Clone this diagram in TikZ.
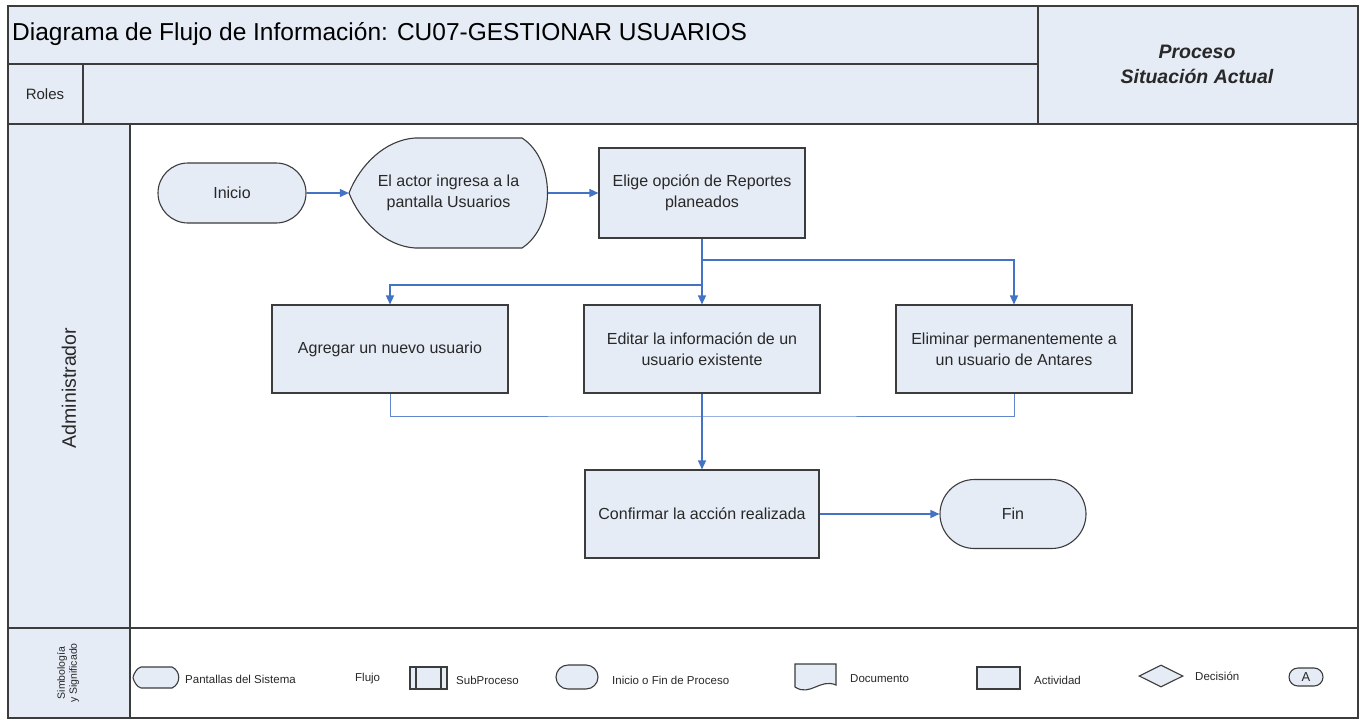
\documentclass[tikz,border=0pt]{standalone}
\usepackage{fontspec}
\setmainfont{Liberation Sans}
\usetikzlibrary{shapes.geometric,shapes.misc,arrows.meta}
\definecolor{fondo}{RGB}{229,236,246}
\definecolor{borde}{RGB}{60,60,60}
\definecolor{azulflujo}{RGB}{68,114,196}
\definecolor{texto}{RGB}{40,40,40}

\begin{document}
\begin{tikzpicture}[x=1pt,y=-1pt]
				\tikzstyle{every node}=[font=\fontsize{16}{21}\selectfont,text=texto,align=center,inner sep=0pt]
				\tikzstyle{marco}=[draw=borde,line width=1.3pt]
				\tikzstyle{actividad}=[rectangle,draw=borde,fill=fondo,line width=1.1pt]
				\tikzstyle{terminal}=[rounded rectangle,draw=borde,fill=fondo,line width=1.1pt]
				\tikzstyle{pantalla}=[draw=borde,fill=fondo,line width=1.1pt]
				\tikzstyle{flujo}=[draw=azulflujo,line width=1.3pt]
				\tikzstyle{retorno}=[draw=azulflujo!85,line width=1pt]
				\tikzstyle{conector}=[flujo,-{Triangle[length=9pt,width=8pt]}]
				\tikzstyle{leyenda}=[anchor=west,font=\fontsize{11.5}{13}\selectfont]
				\useasboundingbox[fill=white] (0,0) rectangle (1362,720);
				% encabezado y carriles
				\draw[marco,fill=fondo] (8,6) rectangle (1038,64);
				\draw[marco,fill=fondo] (8,64) rectangle (83,124);
				\draw[marco,fill=fondo] (83,64) rectangle (1038,124);
				\draw[marco,fill=fondo] (1038,6) rectangle (1358,124);
				\draw[marco] (130,124) rectangle (1358,628);
				\draw[marco,fill=fondo] (8,124) rectangle (130,628);
				\draw[marco] (130,628) rectangle (1358,718);
				\draw[marco,fill=fondo] (8,628) rectangle (130,718);
				\node[anchor=west,font=\fontsize{24.5}{28}\selectfont,text=black] (titulo) at (12,34) {Diagrama de Flujo de Información: CU07-GESTIONAR USUARIOS};
				\node[font=\bfseries\itshape\fontsize{19.5}{25}\selectfont] (proceso) at (1197,64) {Proceso\\Situación Actual};
				\node[font=\fontsize{15}{18}\selectfont] (roles) at (45,94) {Roles};
				\node[rotate=90,font=\fontsize{19.5}{23}\selectfont] (rol) at (69,388) {Administrador};
				\node[rotate=90,font=\fontsize{10.5}{12}\selectfont] (simbolos) at (68,673) {Simbología\\y Significado};
				% flujo
				\node[terminal,minimum width=148pt,minimum height=60pt] (inicio) at (232,193) {Inicio};
				\filldraw[pantalla] (415,138) -- (522,138) .. controls (556,160) and (556,226) .. (522,248)
					-- (415,248) .. controls (385,246) and (360,221) .. (349,193)
					.. controls (360,165) and (385,140) .. (415,138) -- cycle;
				\node[minimum width=199pt,minimum height=110pt] (actor) at (448.5,193) {El actor ingresa a la\\pantalla Usuarios};
				\node[actividad,minimum width=206pt,minimum height=90pt] (elige) at (702,193) {Elige opción de Reportes\\planeados};
				\node[actividad,minimum width=236pt,minimum height=88pt] (agregar) at (390,349) {Agregar un nuevo usuario};
				\node[actividad,minimum width=236pt,minimum height=88pt] (editar) at (702,349) {Editar la información de un\\usuario existente};
				\node[actividad,minimum width=236pt,minimum height=88pt] (eliminar) at (1014,349) {Eliminar permanentemente a\\un usuario de Antares};
				\node[actividad,minimum width=234pt,minimum height=88pt] (confirmar) at (702,514) {Confirmar la acción realizada};
				\node[terminal,minimum width=146pt,minimum height=69pt] (fin) at (1013,514) {Fin};
				\coordinate (rama1) at (702,260);
				\coordinate (rama2) at (702,285);
				\coordinate (junta) at (702,416);
				\draw[conector] (inicio.east) -- (actor.west);
				\draw[conector] (actor.east) -- (elige.west);
				\draw[conector] (elige.south) -- (editar.north);
				\draw[conector] (rama1) -| (eliminar.north);
				\draw[conector] (rama2) -| (agregar.north);
				\draw[retorno] (agregar.south) |- (junta) -| (eliminar.south);
				\draw[conector] (editar.south) -- (confirmar.north);
				\draw[conector] (confirmar.east) -- (fin.west);
				% simbologia
				\filldraw[pantalla] (141,667) -- (172,667) .. controls (181,671) and (181,684) .. (172,688)
					-- (141,688) .. controls (137,687) and (134,682) .. (133,677.5)
					.. controls (134,673) and (137,668) .. (141,667) -- cycle;
				\node[leyenda] (ley1) at (185,679) {Pantallas del Sistema};
				\node[leyenda] (ley2) at (355,679) {Flujo};
				\node[actividad,minimum width=37pt,minimum height=22pt] (leysub) at (428.5,678) {};
				\draw[pantalla] (416,667) -- (416,689) (441,667) -- (441,689);
				\node[leyenda] (ley3) at (456,680) {SubProceso};
				\node[terminal,minimum width=42pt,minimum height=24pt] (leyterm) at (577,677) {};
				\node[leyenda] (ley4) at (612,680) {Inicio o Fin de Proceso};
				\filldraw[pantalla] (795,664) -- (836,664) -- (836,685) .. controls (820,678) and (810,697) .. (795,687) -- cycle;
				\node[leyenda] (ley5) at (850,679) {Documento};
				\node[actividad,minimum width=43pt,minimum height=22pt] (leyact) at (998.5,678) {};
				\node[leyenda] (ley6) at (1034,680) {Actividad};
				\node[diamond,draw=borde,fill=fondo,line width=1.1pt,minimum width=44pt,minimum height=22pt] (leydec) at (1161,676) {};
				\node[leyenda] (ley7) at (1195,676) {Decisión};
				\node[terminal,minimum width=34pt,minimum height=18pt,font=\fontsize{13}{15}\selectfont] (leycon) at (1306,677) {A};
\end{tikzpicture}
\end{document}
